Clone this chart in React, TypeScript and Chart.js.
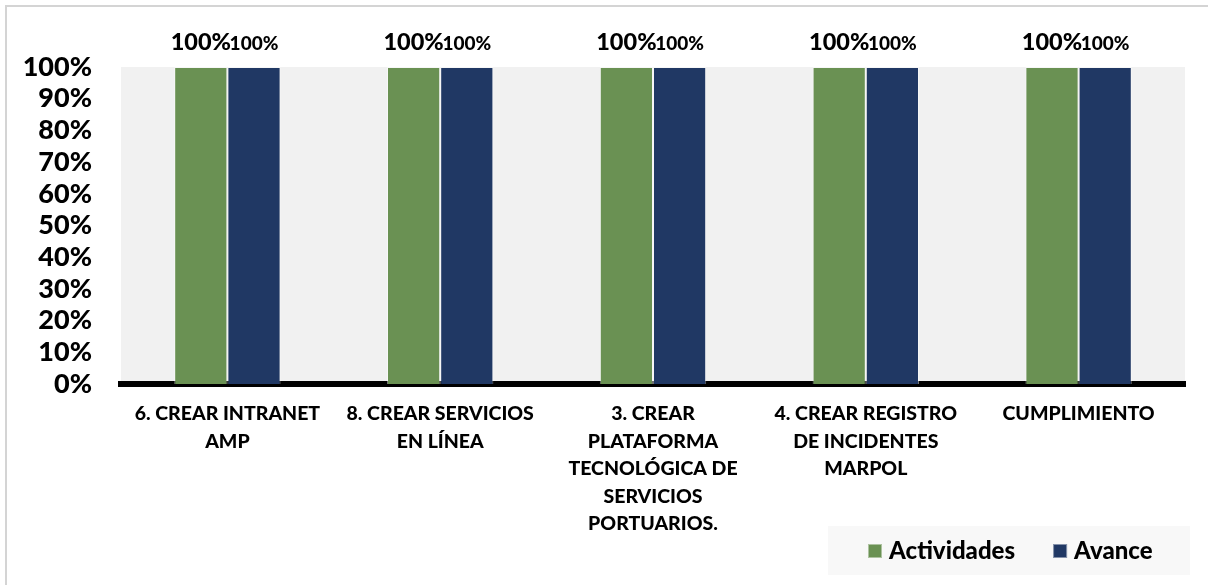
import React, { useEffect, useRef } from "react";
import { Chart, registerables } from "chart.js";

Chart.register(...registerables);

const categories: string[][] = [
  ["6. CREAR INTRANET", "AMP"],
  ["8. CREAR SERVICIOS", "EN LÍNEA"],
  ["3. CREAR", "PLATAFORMA", "TECNOLÓGICA DE", "SERVICIOS", "PORTUARIOS."],
  ["4. CREAR REGISTRO", "DE INCIDENTES", "MARPOL"],
  ["CUMPLIMIENTO"],
];
const actividades: number[] = [100, 100, 100, 100, 100];
const avance: number[] = [100, 100, 100, 100, 100];
const seriesNames: string[] = ["Actividades", "Avance"];
const yTicks: number[] = [0, 10, 20, 30, 40, 50, 60, 70, 80, 90, 100];

const GREEN = "#6A9153";
const NAVY = "#203864";
const FONT = "Lato";
const W = "900";

const decorPlugin = {
  id: "decor",
  beforeDraw(chart: any) {
    const { ctx, chartArea } = chart;
    ctx.save();
    ctx.fillStyle = "#d4d4d4";
    ctx.fillRect(5, 5, 2, chart.height);
    ctx.fillRect(5, 5, chart.width, 2);
    ctx.fillStyle = "#f1f1f1";
    ctx.fillRect(chartArea.left, chartArea.top, chartArea.right - chartArea.left, chartArea.bottom - chartArea.top);
    ctx.restore();
  },
  afterDatasetsDraw(chart: any) {
    const { ctx } = chart;
    ctx.save();
    ctx.fillStyle = "#000";
    ctx.textAlign = "center";
    ctx.textBaseline = "alphabetic";
    chart.data.datasets.forEach((ds: any, i: number) => {
      const meta = chart.getDatasetMeta(i);
      ctx.font = `${W} ${i === 0 ? 23.5 : 19}px ${FONT}`;
      meta.data.forEach((bar: any, j: number) => {
        ctx.fillText(`${ds.data[j]}%`, bar.x, bar.y - 17);
      });
    });
    ctx.restore();
  },
  afterDraw(chart: any) {
    const { ctx } = chart;
    ctx.save();
    ctx.fillStyle = "#f8f8f8";
    ctx.fillRect(828, 526, 362, 49);
    ctx.font = `${W} 24px ${FONT}`;
    ctx.textBaseline = "middle";
    ctx.textAlign = "left";
    let x = 868;
    const cy = 551;
    chart.data.datasets.forEach((ds: any) => {
      ctx.fillStyle = ds.backgroundColor;
      ctx.fillRect(x, cy - 7, 14, 14);
      ctx.strokeStyle = "rgba(255,255,255,0.45)";
      ctx.lineWidth = 1;
      ctx.strokeRect(x + 0.5, cy - 6.5, 13, 13);
      ctx.fillStyle = "#000";
      const tx = x + 21;
      ctx.fillText(ds.label, tx, cy);
      x = tx + ctx.measureText(ds.label).width + 38;
    });
    ctx.restore();
  },
};

export default function App() {
  const ref = useRef<HTMLCanvasElement | null>(null);
  useEffect(() => {
    if (!ref.current) return;
    const chart = new Chart(ref.current, {
      type: "bar",
      data: {
        labels: categories,
        datasets: [
          {
            label: seriesNames[0],
            data: actividades,
            backgroundColor: GREEN,
            borderColor: "rgba(255,255,255,0.45)",
            borderWidth: 1,
            categoryPercentage: 0.5,
            barPercentage: 1,
          },
          {
            label: seriesNames[1],
            data: avance,
            backgroundColor: NAVY,
            borderColor: "rgba(255,255,255,0.45)",
            borderWidth: 1,
            categoryPercentage: 0.5,
            barPercentage: 1,
          },
        ],
      },
      options: {
        animation: false,
        responsive: true,
        maintainAspectRatio: false,
        layout: { padding: { top: 67, right: 23, left: 0, bottom: 0 } },
        plugins: {
          legend: { display: false },
          tooltip: { enabled: false },
          title: { display: false },
        },
        scales: {
          x: {
            grid: { display: false, drawTicks: false },
            border: { display: true, color: "#000", width: 6 },
            afterFit: (s: any) => {
              s.height = 201;
            },
            ticks: {
              autoSkip: false,
              maxRotation: 0,
              minRotation: 0,
              padding: 16,
              color: "#000",
              font: { family: FONT, size: 19.5, weight: W, lineHeight: 1.41 },
            },
          },
          y: {
            min: 0,
            max: 100,
            grid: { display: false, drawTicks: false },
            border: { display: false },
            afterFit: (s: any) => {
              s.width = 121;
            },
            afterBuildTicks: (s: any) => {
              s.ticks = yTicks.map((v) => ({ value: v }));
            },
            ticks: {
              autoSkip: false,
              stepSize: 10,
              padding: 29,
              color: "#000",
              font: { family: FONT, size: 27, weight: W },
              callback: (v: any) => `${v}%`,
            },
          },
        },
      },
      plugins: [decorPlugin],
    });
    return () => chart.destroy();
  }, []);
  return (
    <div style={{ position: "fixed", left: 0, top: 0, width: 1208, height: 585, background: "#fff" }}>
      <canvas ref={ref} />
    </div>
  );
}
